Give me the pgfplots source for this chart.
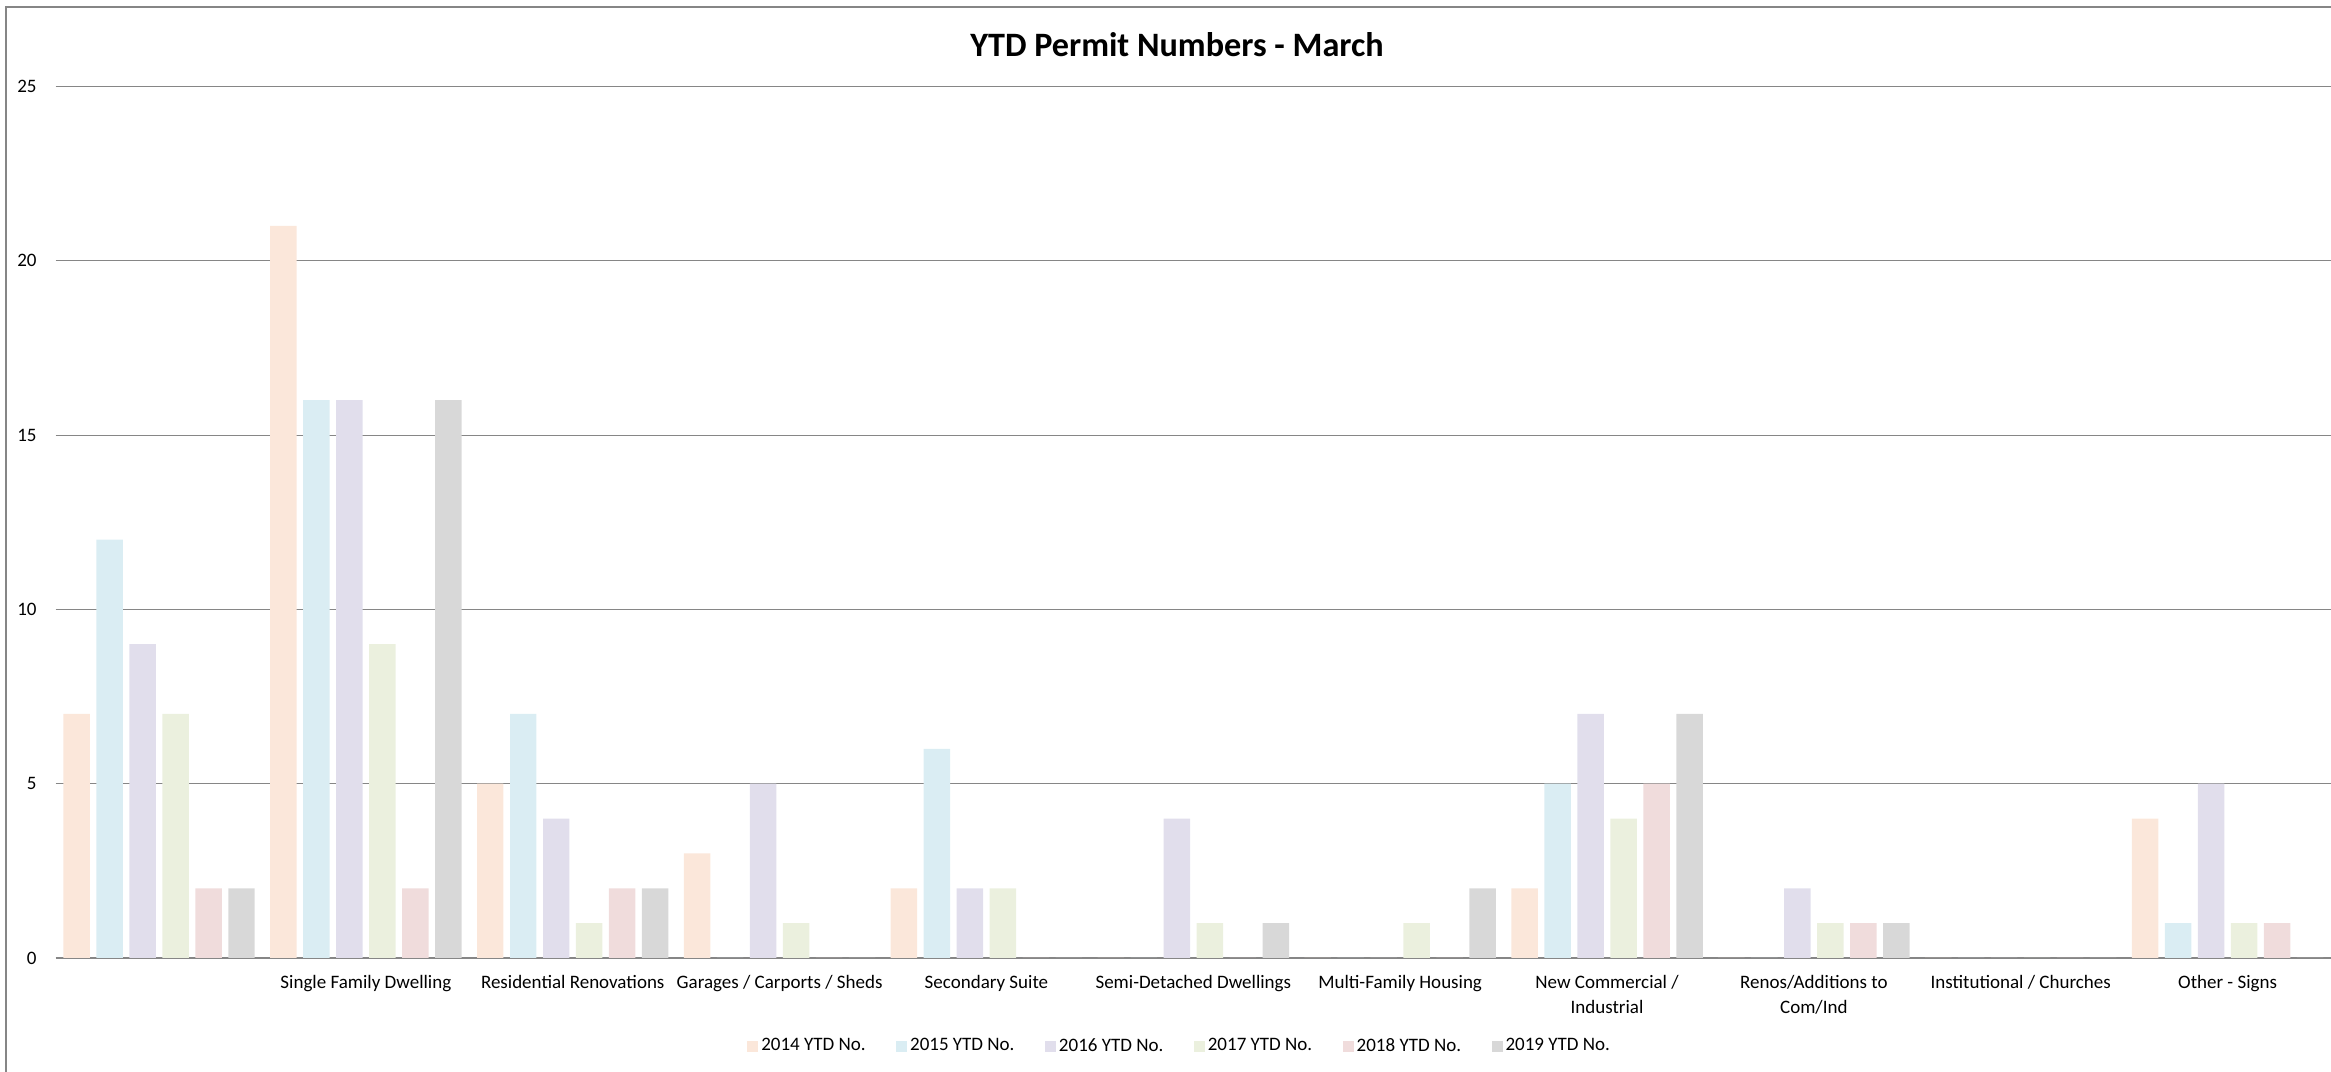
\documentclass[border=0pt]{standalone}
\usepackage{fontspec}
\setmainfont{Carlito}
\usepackage{pgfplots}
\usepackage{pgfplotstable}
\pgfplotsset{compat=1.18}
\definecolor{c14}{RGB}{251,231,218}
\definecolor{c15}{RGB}{218,237,243}
\definecolor{c16}{RGB}{225,222,236}
\definecolor{c17}{RGB}{235,240,222}
\definecolor{c18}{RGB}{240,220,220}
\definecolor{c19}{RGB}{216,216,216}
\definecolor{gridc}{RGB}{134,134,134}
\pgfplotstableread{
idx a b c d e f
0 7 12 9 7 2 2
1 21 16 16 9 2 16
2 5 7 4 1 2 2
3 3 0 5 1 0 0
4 2 6 2 2 0 0
5 0 0 4 1 0 1
6 0 0 0 1 0 2
7 2 5 7 4 5 7
8 0 0 2 1 1 1
9 0 0 0 0 0 0
10 4 1 5 1 1 0
}\datatable
\begin{document}
\begin{tikzpicture}
\path[use as bounding box] (0,0) rectangle (1226.84pt,564.21pt);
\draw[gridc, line width=0.6pt] (3.16pt,-5pt) -- (3.16pt,560.5pt) -- (1240pt,560.5pt);
\node[font=\bfseries\fontsize{18}{21}\selectfont] at (619.5pt,540.5pt) {YTD Permit Numbers - March};
\begin{axis}[
  at={(29.26pt,60pt)}, anchor=south west,
  scale only axis, width=1197.6pt, height=458.7pt,
  xmin=-0.5, xmax=10.5, ymin=0, ymax=25,
  ytick={0,5,...,25}, xtick={0,...,10},
  xticklabels={{},{Single Family Dwelling},{Residential Renovations},{Garages / Carports / Sheds},{Secondary Suite},{Semi-Detached Dwellings},{Multi-Family Housing},{New Commercial /\\Industrial},{Renos/Additions to\\Com/Ind},{Institutional / Churches},{Other - Signs}},
  xticklabel style={align=center, font=\fontsize{10}{13.2}\selectfont, yshift=-5.4pt, anchor=north},
  yticklabel style={font=\fontsize{10}{12}\selectfont, xshift=-6.5pt},
  /pgf/number format/assume math mode=true,
  axis line style={draw=none},
  major tick length=0pt,
  ymajorgrids, grid style={gridc, line width=0.6pt},
  ybar, bar width=0.128,
  legend columns=6,
  legend cell align=left,
  legend style={at={(0.4942,-0.101)}, anchor=center, draw=none, font=\fontsize{10}{12}\selectfont,
    nodes={inner sep=1.5pt},
    /tikz/every even column/.append style={column sep=14.6pt}},
  legend image code/.code={\fill[#1] (0pt,-2.9pt) rectangle (5.8pt,2.9pt);},
  clip=false,
]
\addplot[fill=c14, draw=none, bar shift=0pt] table[x expr=\thisrow{idx}-0.39875, y=a] {\datatable};
\addplot[fill=c15, draw=none, bar shift=0pt] table[x expr=\thisrow{idx}-0.23925, y=b] {\datatable};
\addplot[fill=c16, draw=none, bar shift=0pt] table[x expr=\thisrow{idx}-0.07975, y=c] {\datatable};
\addplot[fill=c17, draw=none, bar shift=0pt] table[x expr=\thisrow{idx}+0.07975, y=d] {\datatable};
\addplot[fill=c18, draw=none, bar shift=0pt] table[x expr=\thisrow{idx}+0.23925, y=e] {\datatable};
\addplot[fill=c19, draw=none, bar shift=0pt] table[x expr=\thisrow{idx}+0.39875, y=f] {\datatable};
\legend{2014 YTD No.,2015 YTD No.,2016 YTD No.,2017 YTD No.,2018 YTD No.,2019 YTD No.}
\end{axis}
\end{tikzpicture}
\end{document}
